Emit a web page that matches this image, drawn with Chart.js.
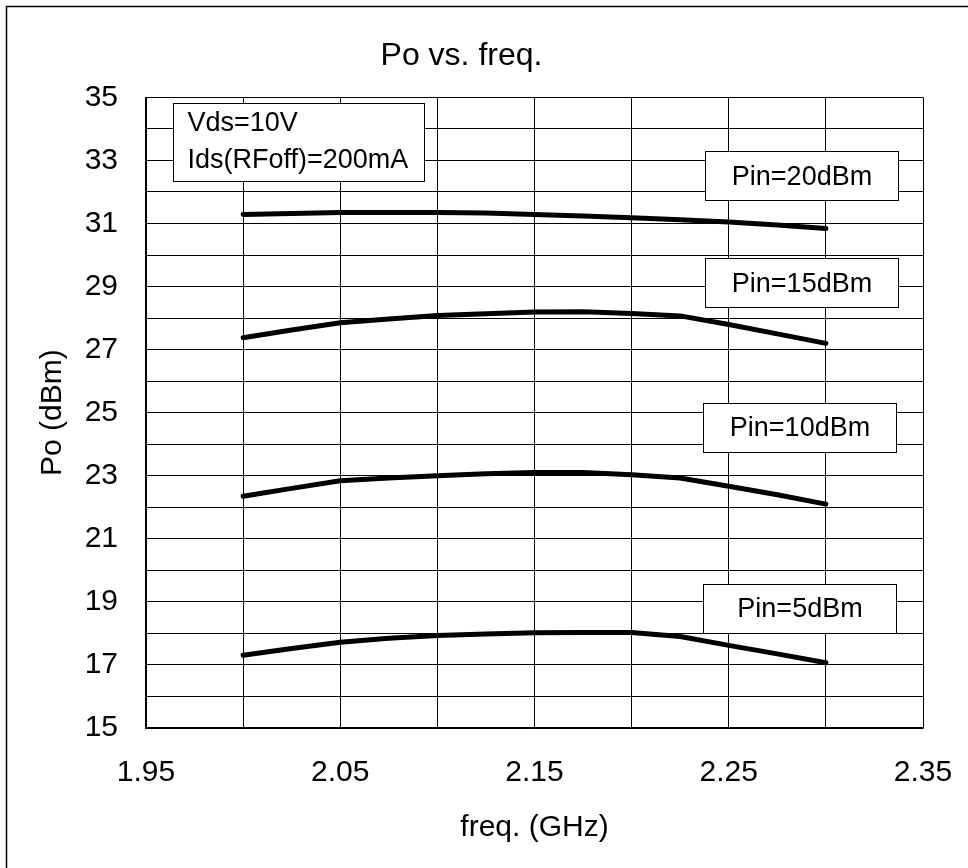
<!DOCTYPE html>
<html lang="en">
<head>
    <meta charset="UTF-8">
    <title>Po vs. freq.</title>
    <script src="https://cdn.jsdelivr.net/npm/chart.js@4.4.1/dist/chart.umd.min.js"></script>
    <style>
        html, body { margin: 0; padding: 0; background: #fff; }
        canvas { display: block; }
    </style>
</head>
<body>
    <canvas id="poChart" width="968" height="868"></canvas>

    <script>
        // Data
        const freq = [2.000, 2.025, 2.050, 2.075, 2.100, 2.125, 2.150, 2.175, 2.200, 2.225, 2.250, 2.275, 2.300];
        const pin20 = [31.29, 31.32, 31.35, 31.35, 31.35, 31.33, 31.29, 31.24, 31.18, 31.12, 31.05, 30.95, 30.84];
        const pin15 = [27.38, 27.62, 27.85, 27.97, 28.08, 28.14, 28.19, 28.20, 28.15, 28.07, 27.80, 27.50, 27.20];
        const pin10 = [22.35, 22.60, 22.84, 22.93, 23.00, 23.06, 23.10, 23.10, 23.03, 22.93, 22.67, 22.40, 22.10];
        const pin5  = [17.31, 17.52, 17.72, 17.85, 17.93, 17.98, 18.02, 18.03, 18.03, 17.90, 17.62, 17.35, 17.07];
        const seriesNames = ['Pin=20dBm', 'Pin=15dBm', 'Pin=10dBm', 'Pin=5dBm'];
        const conditionText = ['Vds=10V', 'Ids(RFoff)=200mA'];

        const FONT = "'Liberation Sans', Arial, sans-serif";

        // label boxes, placed in data units
        const pinBoxes = [
            { text: seriesNames[0], x0: 2.238, x1: 2.337, yc: 32.50 },
            { text: seriesNames[1], x0: 2.238, x1: 2.337, yc: 29.10 },
            { text: seriesNames[2], x0: 2.237, x1: 2.336, yc: 24.52 },
            { text: seriesNames[3], x0: 2.237, x1: 2.336, yc: 18.79 }
        ];
        const condBox = { x0: 1.964, x1: 2.093, y0: 34.81, y1: 32.34 };

        function toPoints(ys) {
            return freq.map((f, i) => ({ x: f, y: ys[i] }));
        }

        const frame = {
            id: 'frame',
            beforeDraw(chart) {
                const c = chart.ctx;
                c.save();
                c.fillStyle = '#fff';
                c.fillRect(0, 0, chart.width, chart.height);
                c.strokeStyle = '#000';
                c.lineWidth = 1.5;
                c.strokeRect(6.5, 6.5, 1200, 1200);
                c.restore();
            }
        };

        const labelBoxes = {
            id: 'labelBoxes',
            afterDatasetsDraw(chart) {
                const c = chart.ctx;
                const xs = chart.scales.x, ys = chart.scales.y;
                c.save();
                c.font = '27px ' + FONT;
                c.lineWidth = 1;
                c.strokeStyle = '#000';
                c.fillStyle = '#000';

                pinBoxes.forEach(b => {
                    const l = Math.round(xs.getPixelForValue(b.x0)) + 0.5;
                    const r = Math.round(xs.getPixelForValue(b.x1)) + 0.5;
                    const yc = ys.getPixelForValue(b.yc);
                    const t = Math.round(yc - 25) + 0.5;
                    c.fillStyle = '#fff';
                    c.fillRect(l, t, r - l, 49);
                    c.strokeRect(l, t, r - l, 49);
                    c.fillStyle = '#000';
                    c.textAlign = 'center';
                    c.textBaseline = 'middle';
                    c.fillText(b.text, (l + r) / 2, yc + 1);
                });

                const l = Math.round(xs.getPixelForValue(condBox.x0)) + 0.5;
                const r = Math.round(xs.getPixelForValue(condBox.x1)) + 0.5;
                const t = Math.round(ys.getPixelForValue(condBox.y0)) + 0.5;
                const b = Math.round(ys.getPixelForValue(condBox.y1)) + 0.5;
                c.fillStyle = '#fff';
                c.fillRect(l, t, r - l, b - t);
                c.strokeRect(l, t, r - l, b - t);
                c.fillStyle = '#000';
                c.textAlign = 'left';
                c.textBaseline = 'alphabetic';
                c.fillText(conditionText[0], l + 14, t + 27);
                c.fillText(conditionText[1], l + 14, t + 64);
                c.restore();
            }
        };

        function lineSet(label, ys) {
            return {
                label: label,
                data: toPoints(ys),
                borderColor: '#000',
                backgroundColor: '#000',
                borderWidth: 5,
                borderCapStyle: 'round',
                borderJoinStyle: 'round',
                pointRadius: 0,
                tension: 0,
                fill: false
            };
        }

        const ctx = document.getElementById('poChart').getContext('2d');
        new Chart(ctx, {
            type: 'line',
            data: {
                datasets: [
                    lineSet(seriesNames[0], pin20),
                    lineSet(seriesNames[1], pin15),
                    lineSet(seriesNames[2], pin10),
                    lineSet(seriesNames[3], pin5)
                ]
            },
            options: {
                responsive: false,
                animation: false,
                layout: { padding: { left: 0, right: 45, top: 0, bottom: 0 } },
                plugins: {
                    legend: { display: false },
                    tooltip: { enabled: false },
                    title: {
                        display: true,
                        text: 'Po vs. freq.',
                        color: '#000',
                        font: { family: FONT, size: 32, weight: 'normal' },
                        padding: { top: 37, bottom: 22 }
                    }
                },
                scales: {
                    x: {
                        type: 'linear',
                        min: 1.95,
                        max: 2.35,
                        afterFit: (scale) => {
                            scale.height = 140;
                            scale.paddingLeft = 0;
                            scale.paddingRight = 0;
                        },
                        ticks: {
                            stepSize: 0.05,
                            autoSkip: false,
                            maxRotation: 0,
                            padding: 27,
                            color: '#000',
                            font: { family: FONT, size: 30 },
                            callback: (v, i) => (i % 2 === 0 ? Number(v).toFixed(2) : '')
                        },
                        grid: { color: '#000', lineWidth: 1, drawTicks: false },
                        border: { color: '#000', width: 1.5 },
                        title: {
                            display: true,
                            text: 'freq. (GHz)',
                            color: '#000',
                            font: { family: FONT, size: 30 },
                            padding: { top: 0, bottom: 22 }
                        }
                    },
                    y: {
                        min: 15,
                        max: 35,
                        afterFit: (scale) => {
                            scale.width = 146;
                            scale.paddingTop = 0;
                            scale.paddingBottom = 0;
                        },
                        ticks: {
                            stepSize: 1,
                            autoSkip: false,
                            padding: 28,
                            color: '#000',
                            font: { family: FONT, size: 30 },
                            callback: (v) => (Math.round(v) % 2 === 1 ? String(Math.round(v)) : '')
                        },
                        grid: { color: '#000', lineWidth: 1, drawTicks: false },
                        border: { color: '#000', width: 1.5 },
                        title: {
                            display: true,
                            text: 'Po (dBm)',
                            color: '#000',
                            font: { family: FONT, size: 30 },
                            padding: { top: 35, bottom: 0 }
                        }
                    }
                }
            },
            plugins: [frame, labelBoxes]
        });
    </script>
</body>
</html>
